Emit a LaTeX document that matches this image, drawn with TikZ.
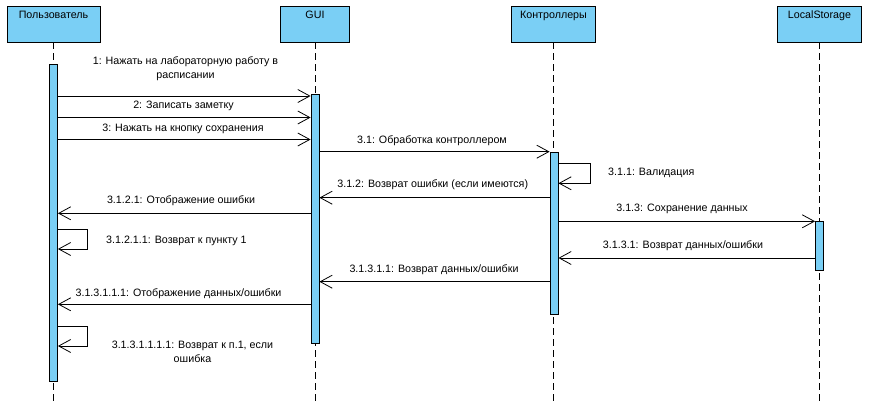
\documentclass[tikz,border=0pt]{standalone}
\usepackage{fontspec}
\setmainfont{Liberation Sans}
\usetikzlibrary{arrows.meta}
\definecolor{lifefill}{RGB}{122,207,245}
\begin{document}
\begin{tikzpicture}[x=1pt,y=-1pt,
  font=\fontsize{10.7}{14}\selectfont,
  head/.style={draw, line width=0.8pt, fill=lifefill, minimum height=36pt, inner sep=0pt},
  headtext/.style={anchor=north, inner sep=0pt},
  bar/.style={draw, line width=0.8pt, fill=lifefill, minimum width=8pt, inner sep=0pt, anchor=north},
  life/.style={line width=0.8pt, dash pattern=on 7pt off 4pt},
  msg/.style={line width=0.8pt, -{Straight Barb[length=12pt,width=13pt,line width=0.8pt]}},
  lbl/.style={inner sep=0pt, align=center}]
\useasboundingbox (0,0) rectangle (891,406);

% lifeline heads
\node[head, minimum width=93pt] (user) at (53.5,24) {};
\node[head, minimum width=69pt] (gui)  at (315,24) {};
\node[head, minimum width=84pt] (ctrl) at (553.5,24) {};
\node[head, minimum width=84pt] (ls)   at (819.5,24) {};
\node[headtext] (usert) at ([yshift=-5pt]user.north) {Пользователь};
\node[headtext] (guit)  at ([yshift=-5pt]gui.north) {GUI};
\node[headtext] (ctrlt) at ([yshift=-5pt]ctrl.north) {Контроллеры};
\node[headtext] (lst)   at ([yshift=-5pt]ls.north) {LocalStorage};

% dashed lifelines
\draw[life] (user.south) -- (user.south |- 0,405);
\draw[life] (gui.south)  -- (gui.south |- 0,405);
\draw[life] (ctrl.south) -- (ctrl.south |- 0,405);
\draw[life] (ls.south)   -- (ls.south |- 0,405);

% activation bars
\node[bar, minimum height=317pt] (ubar) at (53.5,64) {};
\node[bar, minimum height=248pt] (gbar) at (315,94.5) {};
\node[bar, minimum height=162pt] (cbar) at (554,151.7) {};
\node[bar, minimum height=49pt]  (lbar) at (819.5,221.3) {};

% messages
\draw[msg] (ubar.east |- 0,96)    -- (gbar.west |- 0,96);
\node[lbl] (m1) at (185.5,68.5) {1: Нажать на лабораторную работу в\\расписании};
\draw[msg] (ubar.east |- 0,117.5) -- (gbar.west |- 0,117.5);
\node[lbl] (m2) at (183.5,105.5) {2: Записать заметку};
\draw[msg] (ubar.east |- 0,139.5) -- (gbar.west |- 0,139.5);
\node[lbl] (m3) at (183,128.5) {3: Нажать на кнопку сохранения};

\draw[msg] (gbar.east |- 0,151.7) -- (cbar.west |- 0,151.7);
\node[lbl] (m31) at (432,140.5) {3.1: Обработка контроллером};

\draw[msg] (cbar.east |- 0,163.3) -- (590,163.3) -- (590,183.3) -- (cbar.east |- 0,183.3);
\node[lbl, anchor=west] (m311) at (608,173) {3.1.1: Валидация};

\draw[msg] (cbar.west |- 0,197.7) -- (gbar.east |- 0,197.7);
\node[lbl] (m312) at (432.7,185) {3.1.2: Возврат ошибки (если имеются)};

\draw[msg] (gbar.west |- 0,213.3) -- (ubar.east |- 0,213.3);
\node[lbl] (m3121) at (181,201) {3.1.2.1: Отображение ошибки};

\draw[msg] (ubar.east |- 0,229.3) -- (87,229.3) -- (87,249) -- (ubar.east |- 0,249);
\node[lbl, anchor=west] (m31211) at (106,240.5) {3.1.2.1.1: Возврат к пункту 1};

\draw[msg] (cbar.east |- 0,221.3) -- (lbar.west |- 0,221.3);
\node[lbl] (m313) at (682,209) {3.1.3: Сохранение данных};

\draw[msg] (lbar.west |- 0,258) -- (cbar.east |- 0,258);
\node[lbl] (m3131) at (683,246) {3.1.3.1: Возврат данных/ошибки};

\draw[msg] (cbar.west |- 0,281.7) -- (gbar.east |- 0,281.7);
\node[lbl] (m31311) at (434,270) {3.1.3.1.1: Возврат данных/ошибки};

\draw[msg] (gbar.west |- 0,304.3) -- (ubar.east |- 0,304.3);
\node[lbl] (m313111) at (178.5,293.5) {3.1.3.1.1.1: Отображение данных/ошибки};

\draw[msg] (ubar.east |- 0,326) -- (87,326) -- (87,346) -- (ubar.east |- 0,346);
\node[lbl] (m3131111) at (192.5,351.5) {3.1.3.1.1.1.1: Возврат к п.1, если\\ошибка};
\end{tikzpicture}
\end{document}
